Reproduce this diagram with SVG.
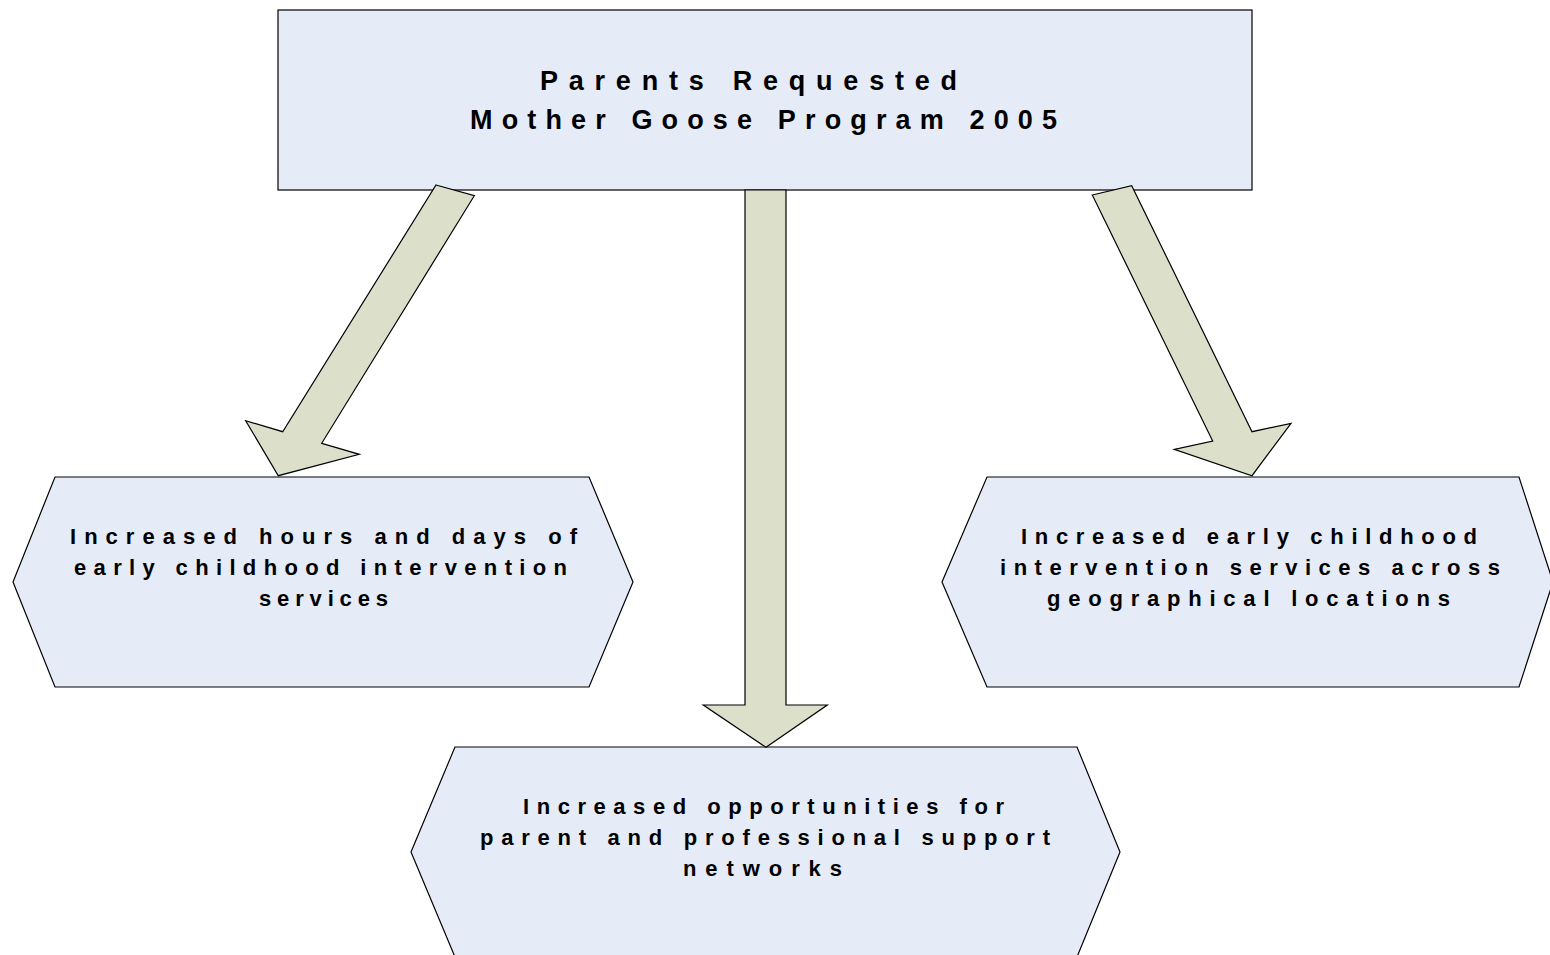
<svg xmlns="http://www.w3.org/2000/svg" width="1550" height="955" viewBox="0 0 1550 955">
<style>
.box{fill:#E6ECF7;stroke:#000;stroke-width:1.2}
.arr{fill:#DCE0CA;stroke:#000;stroke-width:1.2;stroke-linejoin:miter}
.t{font-family:"Liberation Sans",Arial,sans-serif;font-weight:bold;fill:#000}
.top{font-size:27px}
.hx{font-size:22px}
</style>
<rect width="1550" height="955" fill="#fff"/>
<g id="node-top">
<rect class="box" x="278" y="10" width="974" height="180"/>
<text class="t top" x="540" y="90" textLength="417" lengthAdjust="spacing">Parents Requested</text>
<text class="t top" x="470" y="128.5" textLength="587" lengthAdjust="spacing">Mother Goose Program  2005</text>
</g>
<g id="node-left">
<polygon class="box" points="55,477 589,477 633,582 589,687 55,687 13,582"/>
<text class="t hx" x="70" y="544" textLength="507" lengthAdjust="spacing">Increased hours and days of</text>
<text class="t hx" x="74" y="574.5" textLength="493" lengthAdjust="spacing">early childhood intervention</text>
<text class="t hx" x="259" y="606" textLength="129" lengthAdjust="spacing">services</text>
</g>
<g id="node-right">
<polygon class="box" points="987,477 1519,477 1553,582 1519,687 987,687 942,582"/>
<text class="t hx" x="1021" y="544" textLength="456" lengthAdjust="spacing">Increased early childhood</text>
<text class="t hx" x="1000" y="574.5" textLength="500" lengthAdjust="spacing">intervention services across</text>
<text class="t hx" x="1047" y="606" textLength="403" lengthAdjust="spacing">geographical locations</text>
</g>
<g id="node-bottom">
<polygon class="box" points="455,747 1077,747 1120,852 1077,957 455,957 411,852"/>
<text class="t hx" x="523" y="814" textLength="481" lengthAdjust="spacing">Increased opportunities for</text>
<text class="t hx" x="480" y="844.5" textLength="570" lengthAdjust="spacing">parent and professional support</text>
<text class="t hx" x="683" y="876" textLength="159" lengthAdjust="spacing">networks</text>
</g>
<g id="connectors">
<polygon class="arr" points="436,185 474.3,195.7 321.7,443.3 359.3,454.3 278.3,475.7 245.7,420.7 282.7,431.7"/>
<polygon class="arr" points="745,190 786,190 786,705 827.3,705 766,747.3 703.3,705 745,705"/>
<polygon class="arr" points="1092.3,195 1131.7,185.7 1252,431.7 1291,423.3 1252,475.7 1174.3,449.3 1212.7,441"/>
</g>
</svg>
